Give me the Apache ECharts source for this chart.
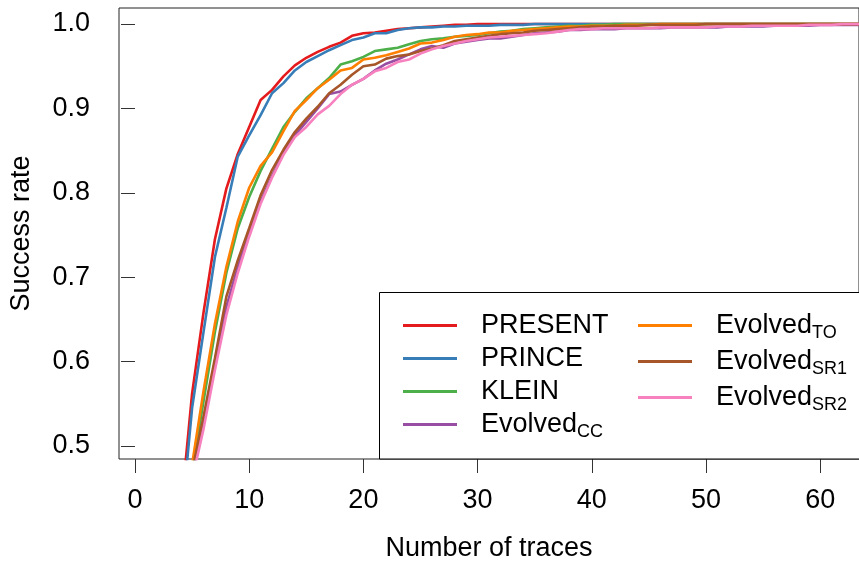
<!DOCTYPE html>
<html>
<head>
<meta charset="utf-8">
<script src="https://cdn.jsdelivr.net/npm/echarts@6/dist/echarts.min.js"></script>
<style>
  html, body { margin: 0; padding: 0; background: #fff; }
  #chart { width: 859px; height: 568px; }
</style>
</head>
<body>
<div id="chart"></div>
<script>
// number of traces
const traces = [4, 5, 6, 7, 8, 9, 10, 11, 12, 13, 14, 15, 16, 17, 18, 19, 20, 21, 22, 23, 24,
  25, 26, 27, 28, 29, 30, 31, 32, 33, 34, 35, 36, 37, 38, 39, 40, 41, 42, 43, 44,
  45, 46, 47, 48, 49, 50, 51, 52, 53, 54, 55, 56, 57, 58, 59, 60, 61, 62, 63, 64];

const present = [0.42, 0.562, 0.658, 0.745, 0.805, 0.846, 0.878, 0.91, 0.922, 0.938, 0.951,
  0.96, 0.967, 0.973, 0.978, 0.986, 0.989, 0.99, 0.992, 0.994, 0.995,
  0.996, 0.997, 0.998, 0.999, 0.999, 1, 1, 1, 1, 1, 1, 1, 1, 1, 1, 1, 1, 1, 1, 1,
  1, 1, 1, 1, 1, 1, 1, 1, 1, 1, 1, 1, 1, 1, 1, 1, 1, 1, 1, 1];
const prince = [0.40, 0.545, 0.635, 0.724, 0.782, 0.843, 0.868, 0.892, 0.918, 0.93, 0.945,
  0.955, 0.962, 0.969, 0.975, 0.981, 0.984, 0.989, 0.989, 0.993, 0.995,
  0.996, 0.996, 0.997, 0.997, 0.998, 0.998, 0.998, 0.999, 0.999, 0.999, 1, 1, 1, 1, 1, 1, 1, 1, 1, 1,
  1, 1, 1, 1, 1, 1, 1, 1, 1, 1, 1, 1, 1, 1, 1, 1, 1, 1, 1, 1];
const klein = [0.36, 0.47, 0.553, 0.635, 0.705, 0.758, 0.795, 0.826, 0.852, 0.878, 0.896,
  0.912, 0.924, 0.936, 0.952, 0.956, 0.961, 0.968, 0.97, 0.972, 0.976,
  0.98, 0.982, 0.983, 0.985, 0.986, 0.987, 0.989, 0.991, 0.992, 0.994, 0.995, 0.996, 0.997, 0.998, 0.998, 0.999, 0.999, 1, 1, 1,
  1, 1, 1, 1, 1, 1, 1, 1, 1, 1, 1, 1, 1, 1, 1, 1, 1, 1, 1, 1];
const evolvedCC = [0.35, 0.465, 0.525, 0.598, 0.665, 0.712, 0.752, 0.79, 0.82, 0.848, 0.868,
  0.884, 0.9, 0.917, 0.92, 0.928, 0.935, 0.945, 0.953, 0.958, 0.964,
  0.97, 0.974, 0.972, 0.977, 0.979, 0.981, 0.983, 0.983, 0.985, 0.987, 0.989, 0.99, 0.991, 0.993, 0.993, 0.994, 0.994, 0.994, 0.995, 0.995,
  0.995, 0.995, 0.996, 0.996, 0.996, 0.996, 0.996, 0.997, 0.997, 0.997, 0.997, 0.998, 0.998, 0.998, 0.998, 0.999, 0.999, 0.999, 0.999, 0.999];
const evolvedTO = [0.37, 0.478, 0.565, 0.645, 0.712, 0.766, 0.806, 0.832, 0.848, 0.873, 0.897,
  0.91, 0.924, 0.934, 0.945, 0.948, 0.958, 0.96, 0.963, 0.967, 0.971,
  0.977, 0.978, 0.981, 0.985, 0.987, 0.988, 0.99, 0.99, 0.992, 0.993, 0.994, 0.995, 0.996, 0.997, 0.997, 0.998, 0.998, 0.998, 0.999, 0.999,
  0.999, 1, 1, 1, 1, 1, 1, 1, 1, 1, 1, 1, 1, 1, 1, 1, 1, 1, 1, 1];
const evolvedSR1 = [0.36, 0.47, 0.535, 0.604, 0.677, 0.72, 0.758, 0.797, 0.827, 0.851, 0.872,
  0.888, 0.902, 0.918, 0.928, 0.94, 0.95, 0.952, 0.959, 0.962, 0.964,
  0.968, 0.971, 0.975, 0.98, 0.982, 0.984, 0.986, 0.988, 0.989, 0.99, 0.992, 0.993, 0.994, 0.995, 0.996, 0.997, 0.997, 0.998, 0.998, 0.998,
  0.999, 0.999, 0.999, 0.999, 0.999, 1, 1, 1, 1, 1, 1, 1, 1, 1, 1, 1, 1, 1, 1, 1];
const evolvedSR2 = [0.35, 0.46, 0.52, 0.59, 0.655, 0.705, 0.748, 0.787, 0.818, 0.845, 0.866,
  0.878, 0.893, 0.903, 0.917, 0.928, 0.935, 0.944, 0.948, 0.955, 0.958,
  0.965, 0.97, 0.974, 0.977, 0.98, 0.982, 0.984, 0.985, 0.986, 0.987, 0.988, 0.989, 0.991, 0.993, 0.994, 0.994, 0.995, 0.995, 0.995, 0.995,
  0.995, 0.996, 0.996, 0.996, 0.996, 0.996, 0.997, 0.997, 0.997, 0.998, 0.998, 0.998, 0.998, 0.998, 0.999, 0.999, 0.999, 1, 1, 1];

const xTicks = [0, 10, 20, 30, 40, 50, 60];
const yTicks = [0.5, 0.6, 0.7, 0.8, 0.9, 1.0];

const font = "'Liberation Sans', Arial, sans-serif";

const seriesDefs = [
  { name: 'PRESENT', values: present, color: '#E41A1C' },
  { name: 'PRINCE', values: prince, color: '#377EB8' },
  { name: 'KLEIN', values: klein, color: '#4DAF4A' },
  { name: 'Evolved_CC', values: evolvedCC, color: '#984EA3' },
  { name: 'Evolved_TO', values: evolvedTO, color: '#FF7F00' },
  { name: 'Evolved_SR1', values: evolvedSR1, color: '#A65628' },
  { name: 'Evolved_SR2', values: evolvedSR2, color: '#F781BF' }
];

// "Evolved_CC" -> Evolved with CC as subscript
function legendLabel(name) {
  const parts = name.split('_');
  if (parts.length === 1) return '{m|' + name + '}';
  return '{m|' + parts[0] + '}{s|' + parts[1] + '}';
}

const legendText = {
  fontFamily: font,
  color: '#000',
  rich: {
    m: { fontSize: 27, lineHeight: 33, fontFamily: font, padding: [0, 0, 0, 19] },
    s: { fontSize: 18, lineHeight: 18, fontFamily: font, verticalAlign: 'bottom' }
  }
};

function makeLegend(names, left) {
  return {
    orient: 'vertical',
    left: left,
    top: 312,
    padding: 0,
    itemGap: 6,
    itemWidth: 54,
    itemHeight: 3,
    icon: 'rect',
    selectedMode: false,
    data: names,
    formatter: legendLabel,
    textStyle: legendText
  };
}

const chart = echarts.init(document.getElementById('chart'), null, { renderer: 'canvas' });

chart.setOption({
  animation: false,
  backgroundColor: '#fff',
  grid: {
    left: 119, top: 8, right: -2, bottom: 109,
    show: true, borderColor: '#222', borderWidth: 1
  },
  legend: [
    makeLegend(seriesDefs.slice(0, 4).map(d => d.name), 403),
    makeLegend(seriesDefs.slice(4).map(d => d.name), 638)
  ],
  graphic: [{
    type: 'rect',
    z: 3,
    shape: { x: 379.5, y: 292.5, width: 520, height: 166.5 },
    style: { fill: '#fff', stroke: '#000', lineWidth: 1 }
  }],
  xAxis: {
    type: 'value',
    min: -1.4,
    max: 63.4,
    name: 'Number of traces',
    nameLocation: 'middle',
    nameGap: 76,
    nameTextStyle: { fontFamily: font, fontSize: 27, color: '#000' },
    axisLine: { show: false },
    splitLine: { show: false },
    axisTick: { show: true, length: 14, customValues: xTicks, lineStyle: { color: '#333' } },
    axisLabel: { customValues: xTicks, margin: 28, fontFamily: font, fontSize: 27, color: '#000' }
  },
  yAxis: {
    type: 'value',
    min: 0.4846,
    max: 1.019,
    name: 'Success rate',
    nameLocation: 'middle',
    nameGap: 84,
    nameTextStyle: { fontFamily: font, fontSize: 27, color: '#000' },
    axisLine: { show: false },
    splitLine: { show: false },
    axisTick: { show: true, length: 14, customValues: yTicks, lineStyle: { color: '#333' } },
    axisLabel: {
      customValues: yTicks, margin: 29, fontFamily: font, fontSize: 27, color: '#000',
      formatter: v => v.toFixed(1)
    }
  },
  series: seriesDefs.map(d => ({
    name: d.name,
    type: 'line',
    data: traces.map((t, i) => [t, d.values[i]]),
    showSymbol: false,
    clip: true,
    color: d.color,
    lineStyle: { color: d.color, width: 2.6 }
  }))
});
</script>
</body>
</html>
